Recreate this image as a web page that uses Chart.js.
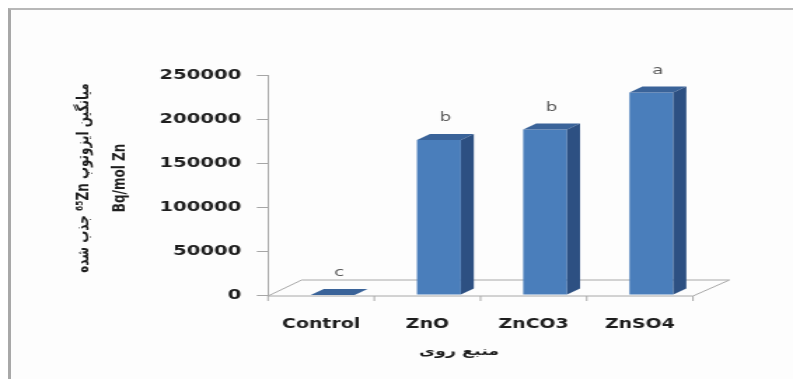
<!DOCTYPE html>
<html>
<head>
<meta charset="utf-8">
<script src="https://cdn.jsdelivr.net/npm/chart.js@4/dist/chart.umd.min.js"></script>
<style>
  html, body { margin: 0; padding: 0; background: #ffffff; }
  #frame {
    position: absolute; left: 8px; top: 8px; width: 785px; height: 371px;
    border-top: 2px solid #b8b8b8; border-left: 3px solid #a8a8a8;
    background: #fdfdfd;
  }
  /* the chart is laid out narrow and widened horizontally */
  #wrap {
    position: absolute; left: 0; top: 0; width: 566px; height: 379px;
    transform: scaleX(1.4011); transform-origin: 0 0;
  }
</style>
</head>
<body>
<div id="frame"></div>
<div id="wrap"><canvas id="chart" width="566" height="379"></canvas></div>
<script>
// Zn source categories and mean absorbed 65Zn activity
const categories = ['Control', 'ZnO', 'ZnCO3', 'ZnSO4'];
const uptake = [0, 176000, 188000, 230000];
const groupLetters = ['c', 'b', 'b', 'a'];
const yTicks = [0, 50000, 100000, 150000, 200000, 250000];
const yTitleLines = ['میانگین ایزوتوپ ⁶⁵Zn جذب شده', 'Bq/mol Zn'];
const xTitle = 'منبع روی';

const STRETCH = 793 / 566;
const DEPTH_X = 9.3;   // receding depth of each column
const DEPTH_Y = 6;
const SHIFT = 8.2;     // columns sit a little behind the floor's front edge
const FLOOR_X = 24;    // floor depth
const FLOOR_Y = 15;
const FONT = 'DejaVu Sans';

const floorPlugin = {
  id: 'floor',
  beforeDatasetsDraw(chart) {
    const { ctx, chartArea: a, scales: { x } } = chart;
    ctx.save();
    ctx.strokeStyle = '#a8a8a8';
    ctx.lineWidth = 1;
    ctx.beginPath();
    ctx.moveTo(a.left, a.bottom + 1);
    ctx.lineTo(a.right, a.bottom + 1);
    ctx.lineTo(a.right + FLOOR_X + 2, a.bottom - FLOOR_Y);
    ctx.lineTo(a.left + FLOOR_X, a.bottom - FLOOR_Y);
    ctx.lineTo(a.left, a.bottom + 1);
    ctx.stroke();
    // category separators on the floor's front edge
    const half = (x.getPixelForValue(1) - x.getPixelForValue(0)) / 2;
    ctx.beginPath();
    for (let i = 0; i <= categories.length; i++) {
      const px = x.getPixelForValue(0) - half + i * half * 2;
      ctx.moveTo(px, a.bottom + 1);
      ctx.lineTo(px, a.bottom + 6);
    }
    ctx.stroke();
    ctx.restore();
  }
};

const columnPlugin = {
  id: 'columns3d',
  beforeDatasetDraw(chart) {
    chart.ctx.save();
    chart.ctx.translate(SHIFT, 0);
  },
  afterDatasetDraw(chart, args) {
    const { ctx } = chart;
    args.meta.data.forEach((bar) => {
      const { x, y, base, width } = bar.getProps(['x', 'y', 'base', 'width'], true);
      const l = x - width / 2, r = x + width / 2;
      // top face
      ctx.fillStyle = '#3a6399';
      ctx.beginPath();
      ctx.moveTo(l, y);
      ctx.lineTo(r, y);
      ctx.lineTo(r + DEPTH_X, y - DEPTH_Y);
      ctx.lineTo(l + DEPTH_X, y - DEPTH_Y);
      ctx.closePath();
      ctx.fill();
      // side face
      if (base - y > 0.5) {
        ctx.fillStyle = '#2d5082';
        ctx.beginPath();
        ctx.moveTo(r, y);
        ctx.lineTo(r + DEPTH_X, y - DEPTH_Y);
        ctx.lineTo(r + DEPTH_X, base - DEPTH_Y);
        ctx.lineTo(r, base);
        ctx.closePath();
        ctx.fill();
      }
    });
    ctx.restore();
  },
  afterDatasetsDraw(chart) {
    const { ctx } = chart;
    const meta = chart.getDatasetMeta(0);
    ctx.save();
    ctx.fillStyle = '#595959';
    ctx.font = `13px "${FONT}"`;
    ctx.textAlign = 'center';
    ctx.textBaseline = 'middle';
    meta.data.forEach((bar, i) => {
      const { x, y } = bar.getProps(['x', 'y'], true);
      ctx.fillText(groupLetters[i], x + SHIFT + DEPTH_X / 2, y - 22);
    });
    ctx.restore();
  }
};

const titlePlugin = {
  id: 'axisTitles',
  afterDraw(chart) {
    const { ctx } = chart;
    ctx.save();
    ctx.fillStyle = '#1e1e1e';
    ctx.textAlign = 'center';
    ctx.textBaseline = 'middle';
    // y title, two rotated lines
    const yx = [60, 85.7];
    yTitleLines.forEach((line, i) => {
      ctx.save();
      ctx.translate(yx[i], 178);
      ctx.rotate(-Math.PI / 2);
      ctx.direction = i === 0 ? 'rtl' : 'ltr';
      ctx.font = `bold 12px "${FONT}"`;
      ctx.fillText(line, 0, 0);
      ctx.restore();
    });
    // x title
    ctx.direction = 'rtl';
    ctx.font = `bold 12.5px "${FONT}"`;
    ctx.fillText(xTitle, 459 / STRETCH, 352);
    ctx.restore();
  }
};

new Chart(document.getElementById('chart'), {
  type: 'bar',
  data: {
    labels: categories,
    datasets: [{
      data: uptake,
      backgroundColor: '#4a7ebb',
      borderWidth: 0,
      barPercentage: 0.413,
      categoryPercentage: 1
    }]
  },
  options: {
    responsive: false,
    animation: false,
    devicePixelRatio: 1,
    layout: { padding: { top: 75, right: 566 - 494.6, bottom: 0, left: 0 } },
    plugins: { legend: { display: false }, tooltip: { enabled: false } },
    scales: {
      x: {
        grid: { display: false, drawTicks: false },
        border: { display: false },
        ticks: {
          color: '#1e1e1e',
          font: { family: FONT, weight: 'bold', size: 13.5 },
          padding: 21,
          maxRotation: 0
        },
        afterFit: (s) => { s.height = 84; }
      },
      y: {
        min: 0,
        max: 250000,
        afterBuildTicks: (s) => { s.ticks = yTicks.map((v) => ({ value: v })); },
        grid: { drawOnChartArea: false, tickLength: 8, color: '#a6a6a6' },
        border: { display: true, color: '#a6a6a6' },
        ticks: {
          color: '#1e1e1e',
          font: { family: FONT, weight: 'bold', size: 14 },
          padding: 11,
          callback: (v) => String(v)
        },
        afterFit: (s) => { s.width = 191.3; }
      }
    }
  },
  plugins: [floorPlugin, columnPlugin, titlePlugin]
});
</script>
</body>
</html>
